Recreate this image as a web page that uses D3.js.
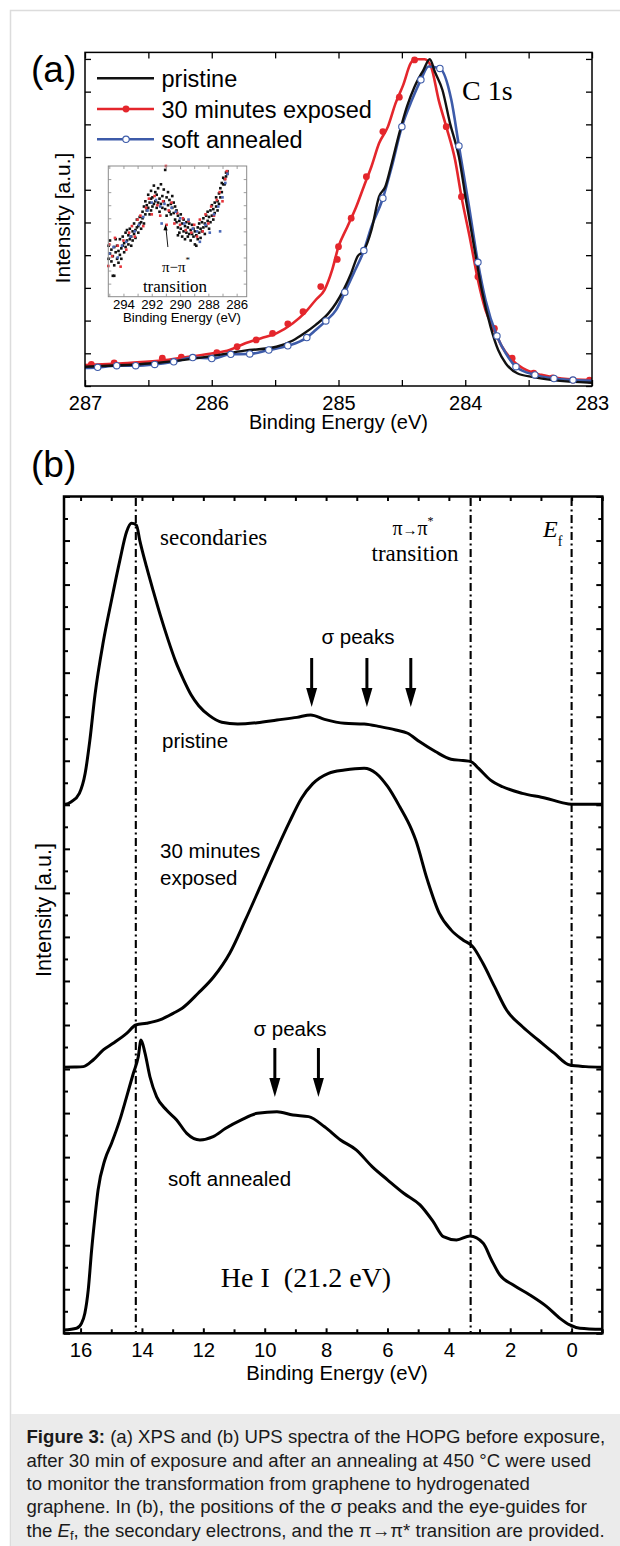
<!DOCTYPE html>
<html><head><meta charset="utf-8">
<script src="https://cdn.jsdelivr.net/npm/d3@7"></script>
<style>
html,body{margin:0;padding:0;background:#fff;}
svg{display:block;}
</style></head>
<body>
<svg id="c" width="620" height="1546"></svg>
<script>
// ---------------- DATA ----------------
// Panel (a): XPS C 1s  [binding energy eV, intensity a.u.]
const xpsPristine = [[287.0,0.59],[286.42,0.71],[285.99,0.92],[285.74,1.08],[285.49,1.20],[285.36,1.39],[285.27,1.61],[285.18,1.87],[285.08,2.22],[285.02,2.53],[284.96,2.94],[284.90,3.45],[284.85,3.96],[284.80,4.14],[284.74,4.77],[284.68,5.79],[284.63,6.10],[284.58,6.81],[284.52,7.73],[284.46,8.54],[284.40,9.15],[284.33,9.66],[284.28,9.99],[284.24,9.61],[284.18,9.05],[284.12,8.03],[284.05,7.01],[283.99,5.59],[283.93,4.26],[283.87,2.94],[283.80,1.81],[283.74,1.10],[283.68,0.69],[283.59,0.39],[283.46,0.27],[283.31,0.18],[283.0,0.10]];
const xpsExposed = [[287.0,0.64],[286.73,0.69],[286.42,0.77],[286.17,0.90],[285.99,1.0],[285.86,1.10],[285.74,1.30],[285.61,1.46],[285.49,1.61],[285.36,1.92],[285.27,2.22],[285.18,2.63],[285.11,2.94],[285.05,3.55],[285.0,4.26],[284.93,4.87],[284.86,5.48],[284.80,6.10],[284.74,6.71],[284.68,7.42],[284.61,7.93],[284.55,8.64],[284.49,9.20],[284.43,9.87],[284.40,9.99],[284.32,9.99],[284.27,9.77],[284.21,8.75],[284.15,7.93],[284.08,6.91],[284.03,5.79],[283.96,4.46],[283.90,3.24],[283.84,2.32],[283.77,1.71],[283.71,1.20],[283.63,0.80],[283.52,0.49],[283.40,0.34],[283.24,0.23],[283.0,0.18]];
const xpsExposedMarks = [[286.95,0.66],[286.77,0.71],[286.39,0.85],[286.24,0.88],[285.96,1.02],[285.80,1.20],[285.65,1.41],[285.52,1.61],[285.40,1.90],[285.28,2.27],[285.14,3.04],[285.01,3.87],[285.0,4.26],[284.90,5.13],[284.78,6.40],[284.65,7.78],[284.52,8.83],[284.40,9.97],[284.15,7.93],[284.03,5.79],[283.90,3.34],[283.77,1.76],[283.63,0.85],[283.46,0.39],[283.31,0.25],[283.15,0.18],[283.02,0.18]];
const xpsAnnealed = [[287.0,0.55],[286.90,0.57],[286.75,0.62],[286.60,0.62],[286.45,0.66],[286.30,0.74],[286.15,0.87],[286.0,0.84],[285.85,0.97],[285.70,0.98],[285.55,1.10],[285.40,1.23],[285.25,1.48],[285.18,1.71],[285.10,1.99],[285.02,2.32],[284.95,2.87],[284.88,3.45],[284.80,4.14],[284.74,4.87],[284.65,5.74],[284.58,6.70],[284.50,7.93],[284.42,8.75],[284.35,9.36],[284.29,9.77],[284.20,9.71],[284.11,8.75],[284.05,7.34],[283.97,5.48],[283.90,3.78],[283.84,2.63],[283.75,1.53],[283.68,1.0],[283.60,0.59],[283.45,0.34],[283.30,0.23],[283.15,0.18],[283.0,0.16]];
const xpsAnnealedMarks = [[286.90,0.57],[286.75,0.62],[286.60,0.62],[286.45,0.66],[286.30,0.74],[286.15,0.87],[286.0,0.84],[285.85,0.97],[285.70,0.98],[285.55,1.10],[285.40,1.23],[285.25,1.48],[285.10,1.99],[284.95,2.87],[284.80,4.14],[284.65,5.74],[284.50,7.93],[284.35,9.36],[284.20,9.71],[284.05,7.34],[283.90,3.78],[283.75,1.53],[283.60,0.59],[283.45,0.34],[283.30,0.23],[283.15,0.18]];

// Inset: pi-pi* region scatter [eV, intensity]
const insetBlack = [[295.05,3.9],[295.05,2.9],[294.95,3.3],[294.95,4.3],[294.85,2.7],[294.85,3.6],[294.75,1.6],[294.75,3.1],[294.65,1.6],[294.65,3.8],[294.65,2.4],[294.55,3.4],[294.55,4.4],[294.45,2.9],[294.45,3.9],[294.35,3.5],[294.35,2.6],[294.25,4.4],[294.25,3.2],[294.15,3.7],[294.15,2.9],[294.05,4.6],[294.05,3.9],[293.95,4.1],[293.95,3.4],[293.85,4.9],[293.85,3.8],[293.75,4.3],[293.75,5.1],[293.65,4.0],[293.65,4.7],[293.55,5.2],[293.55,4.4],[293.45,4.6],[293.45,3.9],[293.35,5.0],[293.35,4.3],[293.25,5.6],[293.25,4.8],[293.15,5.1],[293.15,4.5],[293.05,5.9],[293.05,5.3],[292.95,5.4],[292.95,4.9],[292.85,6.1],[292.85,5.6],[292.75,5.7],[292.75,5.2],[292.65,6.5],[292.65,6.0],[292.55,5.6],[292.55,6.9],[292.45,6.3],[292.45,7.3],[292.35,7.0],[292.35,6.6],[292.25,7.8],[292.25,6.8],[292.15,7.2],[292.15,6.3],[292.05,8.1],[292.05,7.5],[292.05,6.6],[291.95,7.6],[291.95,6.9],[291.85,8.5],[291.85,7.1],[291.75,7.3],[291.75,8.0],[291.65,7.8],[291.65,6.8],[291.55,8.3],[291.55,7.2],[291.45,7.5],[291.45,6.5],[291.35,8.6],[291.35,7.1],[291.25,6.8],[291.25,7.7],[291.15,7.3],[291.15,8.2],[291.05,9.7],[291.05,6.7],[290.95,7.6],[290.95,6.2],[290.85,7.0],[290.85,8.0],[290.75,6.5],[290.75,7.4],[290.65,7.1],[290.65,6.3],[290.55,7.7],[290.55,6.8],[290.45,6.4],[290.45,7.2],[290.35,5.9],[290.35,6.9],[290.25,6.6],[290.25,5.7],[290.15,6.2],[290.15,5.3],[290.15,4.7],[290.05,5.8],[290.05,4.9],[289.95,6.3],[289.95,5.2],[289.85,5.6],[289.85,4.6],[289.75,5.0],[289.75,5.9],[289.65,5.4],[289.65,4.4],[289.55,4.9],[289.55,5.7],[289.45,5.3],[289.45,4.6],[289.35,4.8],[289.35,5.6],[289.25,4.3],[289.25,5.1],[289.15,5.5],[289.15,4.8],[289.05,4.6],[289.05,5.2],[288.95,4.0],[288.95,5.0],[288.85,4.7],[288.85,3.9],[288.75,5.3],[288.75,4.4],[288.65,4.9],[288.65,5.6],[288.55,4.5],[288.55,5.2],[288.45,5.7],[288.45,5.0],[288.35,5.3],[288.35,6.0],[288.25,4.8],[288.25,5.6],[288.15,6.2],[288.15,5.4],[288.05,5.8],[288.05,6.5],[287.95,5.2],[287.95,6.1],[287.85,6.6],[287.85,5.7],[287.75,6.2],[287.75,7.0],[287.65,5.9],[287.65,6.7],[287.55,7.2],[287.55,6.4],[287.45,6.9],[287.45,7.6],[287.35,7.3],[287.35,6.6],[287.25,7.9],[287.25,7.1],[287.15,8.3],[287.15,7.6],[287.05,8.0],[287.05,8.7],[286.95,8.6],[286.95,9.1],[286.85,9.0],[286.85,8.6],[286.75,9.5],[286.75,9.2],[286.65,9.6],[286.65,9.4]];
const insetRed = [[295.07,2.35],[295.0,4.0],[294.8,3.1],[294.6,4.5],[294.4,3.9],[294.2,2.3],[294.0,4.3],[293.8,3.6],[293.6,4.9],[293.4,5.4],[293.2,4.6],[293.0,5.9],[292.8,6.2],[292.6,5.4],[292.4,6.8],[292.2,7.5],[292.0,6.3],[291.8,7.7],[291.6,7.0],[291.4,6.2],[291.2,7.3],[291.0,10.0],[290.95,5.5],[290.8,6.6],[290.6,7.2],[290.4,5.6],[290.2,6.4],[290.0,5.5],[289.8,6.0],[289.6,5.1],[289.4,5.8],[289.2,4.9],[289.0,5.5],[288.8,4.6],[288.6,5.9],[288.4,5.0],[288.2,6.3],[288.0,5.6],[287.8,6.9],[287.6,6.2],[287.4,7.4],[287.2,8.0],[287.0,7.3],[286.8,9.0],[286.7,9.6]];
const insetBlue = [[295.0,3.3],[294.7,3.8],[294.4,3.0],[294.1,3.9],[293.8,4.2],[293.5,4.6],[293.2,5.0],[292.9,5.5],[292.6,6.1],[292.3,6.6],[292.0,7.2],[291.7,7.4],[291.4,6.9],[291.3,5.6],[291.1,7.1],[290.6,6.8],[290.3,6.5],[290.0,6.0],[289.7,5.6],[289.4,5.9],[289.1,5.2],[288.8,5.0],[288.6,4.2],[288.2,5.5],[287.9,4.9],[287.6,6.3],[287.3,6.9],[287.17,5.0],[287.0,7.6],[286.8,8.7],[286.65,9.4]];

// Panel (b): UPS He I  [binding energy eV, intensity a.u.]
const upsPristine = [[16.54,24.02],[16.49,24.02],[16.3,24.14],[16.04,24.52],[15.85,25.43],[15.7,26.9],[15.53,29.0],[15.26,31.4],[14.99,33.3],[14.72,35.1],[14.5,36.4],[14.34,36.78],[14.18,36.7],[14.07,36.0],[13.85,34.8],[13.63,33.7],[13.4,32.6],[13.15,31.5],[12.9,30.5],[12.65,29.7],[12.4,29.0],[12.15,28.5],[11.8,28.05],[11.4,27.75],[10.88,27.67],[10.24,27.73],[9.6,27.85],[8.95,27.97],[8.5,28.08],[8.05,27.88],[7.4,27.7],[6.76,27.67],[6.24,27.55],[5.73,27.4],[5.34,27.25],[4.96,26.87],[4.44,26.42],[3.93,26.07],[3.54,26.01],[3.28,25.96],[3.03,25.65],[2.64,25.12],[2.25,24.82],[1.61,24.52],[0.84,24.3],[0.32,24.1],[0.0,24.02],[-1.0,24.02]];
const upsExposed = [[16.54,12.08],[16.2,12.09],[15.91,12.11],[15.59,12.41],[15.26,12.87],[14.94,13.17],[14.5,13.62],[14.2,14.0],[13.85,14.08],[13.42,14.23],[12.98,14.53],[12.69,14.76],[12.17,15.44],[11.66,16.19],[11.14,17.26],[10.63,18.77],[10.11,20.4],[9.6,22.0],[9.2,23.2],[8.8,24.3],[8.44,24.95],[7.92,25.43],[7.4,25.58],[6.76,25.66],[6.37,25.43],[5.99,24.82],[5.6,23.91],[5.21,22.86],[5.08,22.4],[4.7,20.59],[4.31,19.07],[3.93,18.32],[3.54,17.86],[3.22,17.56],[2.89,16.8],[2.51,15.74],[2.12,14.68],[1.6,13.92],[1.09,13.32],[0.57,12.72],[0.06,12.18],[-0.46,12.11],[-1.0,12.08]];
const upsAnnealed = [[16.54,0.15],[16.13,0.23],[15.97,0.45],[15.86,0.91],[15.75,1.97],[15.64,3.78],[15.53,5.3],[15.43,6.51],[15.21,7.87],[14.99,8.63],[14.72,9.69],[14.5,10.74],[14.28,11.81],[14.12,12.56],[14.03,13.32],[13.9,12.72],[13.74,11.65],[13.52,10.74],[13.2,10.14],[12.87,9.69],[12.54,9.08],[12.11,8.78],[11.68,8.93],[11.27,9.31],[10.76,9.69],[10.24,9.99],[9.6,10.06],[9.08,9.91],[8.57,9.84],[8.05,9.38],[7.53,8.78],[7.02,8.33],[6.5,7.57],[5.99,6.96],[5.47,6.36],[4.94,5.83],[4.51,5.07],[4.18,4.39],[3.75,4.24],[3.31,4.42],[2.88,4.09],[2.61,3.33],[2.34,2.65],[1.9,2.19],[1.36,1.74],[0.81,1.21],[0.38,0.68],[0.06,0.38],[-0.27,0.23],[-1.0,0.18]];
const guideLines = [14.2, 3.29, 0.0];          // secondaries, pi->pi*, Ef
const sigmaPristine = [8.47, 6.67, 5.24];
const sigmaAnnealed = [9.67, 8.25];

// tick values
const aMajorX = [287,286,285,284,283];
const aMinorX = [286.5,285.5,284.5,283.5];
const aTicksY = [0,1,2,3,4,5,6,7,8,9,10];
const insetLabelsX = [294,292,290,288,286];
const insetTicksX = [295,294,293,292,291,290,289,288,287,286];
const insetTicksY = [1,2,3,4,5,6,7,8,9];
const bMajorX = [16,14,12,10,8,6,4,2,0];
const bMinorX = [15,13,11,9,7,5,3,1,-1];
const bMajorY = d3.range(0,39,2);
const bMinorY = d3.range(1,38,2);

const legendItems = ["pristine","30 minutes exposed","soft annealed"];

// ---------------- DRAW ----------------
const SANS = "'Liberation Sans', Arial, Helvetica, sans-serif";
const SERIF = "'Liberation Serif', 'Times New Roman', serif";
const RED = "#e4262c", BLUE = "#3d5ba9", BLK = "#111";
const svg = d3.select("#c");

svg.append("rect").attr("x",0).attr("y",0).attr("width",620).attr("height",1546).attr("fill","#fff");
svg.append("rect").attr("x",10.5).attr("y",10.5).attr("width",620).attr("height",1546).attr("fill","none").attr("stroke","#dcdcdc").attr("stroke-width",1.5);

function axis(g, gen, fontSize){
  g.call(gen);
  g.select(".domain").remove();
  g.selectAll("text").attr("font-family",SANS).attr("font-size",fontSize).attr("fill","#000");
  g.selectAll("line").attr("stroke","#000");
}

// ===== Panel (a) =====
const xa = d3.scaleLinear().domain([287,283]).range([85,592]);
const ya = d3.scaleLinear().domain([0,10.2]).range([386,52.4]);
const A = svg.append("g");

axis(A.append("g").attr("transform","translate(0,386)"),
  d3.axisBottom(xa).tickValues(aMajorX).tickSizeInner(-6).tickSizeOuter(0).tickPadding(9.8).tickFormat(d3.format("d")), 20);
axis(A.append("g").attr("transform","translate(0,386)"),
  d3.axisBottom(xa).tickValues(aMinorX).tickSizeInner(-6).tickSizeOuter(0).tickFormat(""), 20);
axis(A.append("g").attr("transform","translate(0,52.4)"),
  d3.axisTop(xa).tickValues(aMajorX.concat(aMinorX)).tickSizeInner(-6).tickSizeOuter(0).tickFormat(""), 20);
axis(A.append("g").attr("transform","translate(85,0)"),
  d3.axisLeft(ya).tickValues(aTicksY).tickSizeInner(-6).tickSizeOuter(0).tickFormat(""), 20);
axis(A.append("g").attr("transform","translate(592,0)"),
  d3.axisRight(ya).tickValues(aTicksY).tickSizeInner(-6).tickSizeOuter(0).tickFormat(""), 20);
A.selectAll("line").attr("stroke-width",1.3);

const lineA = d3.line().x(d=>xa(d[0])).y(d=>ya(d[1])).curve(d3.curveMonotoneX);
svg.append("clipPath").attr("id","clipA").append("rect").attr("x",85).attr("y",40).attr("width",507).attr("height",346);
const curvesA = A.append("g").attr("clip-path","url(#clipA)");
curvesA.append("path").datum(xpsExposed).attr("d",lineA).attr("fill","none").attr("stroke",RED).attr("stroke-width",2.6);
curvesA.selectAll(".rm").data(xpsExposedMarks).join("circle").attr("cx",d=>xa(d[0])).attr("cy",d=>ya(d[1])).attr("r",3.4).attr("fill",RED);
curvesA.append("path").datum(xpsAnnealed).attr("d",lineA).attr("fill","none").attr("stroke",BLUE).attr("stroke-width",2.6);
curvesA.append("path").datum(xpsPristine).attr("d",lineA).attr("fill","none").attr("stroke",BLK).attr("stroke-width",2.4);
curvesA.selectAll(".bm").data(xpsAnnealedMarks).join("circle").attr("cx",d=>xa(d[0])).attr("cy",d=>ya(d[1])).attr("r",3.2).attr("fill","#fff").attr("stroke",BLUE).attr("stroke-width",1.1);

A.append("rect").attr("x",85).attr("y",52.4).attr("width",507).attr("height",333.6).attr("fill","none").attr("stroke","#000").attr("stroke-width",1.5);

A.append("text").attr("x",xa(285)).attr("y",429).attr("text-anchor","middle").attr("font-family",SANS).attr("font-size",20).text("Binding Energy (eV)");
A.append("text").attr("transform","translate(70,218) rotate(-90)").attr("text-anchor","middle").attr("font-family",SANS).attr("font-size",21).text("Intensity [a.u.]");
A.append("text").attr("x",31).attr("y",82).attr("font-family",SANS).attr("font-size",37).text("(a)");
A.append("text").attr("x",462).attr("y",100).attr("font-family",SERIF).attr("font-size",28).text("C 1s");

// legend
const legColors = [BLK, RED, BLUE];
const legY = [78.3, 109, 139.3];
const legBase = [87, 118, 147.5];
legendItems.forEach((t,i)=>{
  A.append("line").attr("x1",97).attr("x2",154).attr("y1",legY[i]).attr("y2",legY[i]).attr("stroke",legColors[i]).attr("stroke-width",2.6);
  if(i===1) A.append("circle").attr("cx",126).attr("cy",legY[i]).attr("r",3.4).attr("fill",RED);
  if(i===2) A.append("circle").attr("cx",126).attr("cy",legY[i]).attr("r",3.2).attr("fill","#fff").attr("stroke",BLUE).attr("stroke-width",1.1);
  A.append("text").attr("x",161.5).attr("y",legBase[i]).attr("font-family",SANS).attr("font-size",23.5).text(t);
});

// inset
const xi = d3.scaleLinear().domain([295.07,285.29]).range([108.3,246.7]);
const yi = d3.scaleLinear().domain([0,10]).range([296.7,166]);
const I = svg.append("g");
I.append("rect").attr("x",108.3).attr("y",166).attr("width",138.4).attr("height",130.7).attr("fill","#fff");
const dots = I.append("g");
function scat(data,color){
  dots.selectAll(null).data(data).join("rect").attr("x",d=>xi(d[0])-1.3).attr("y",d=>yi(d[1])-1.3).attr("width",2.6).attr("height",2.6).attr("fill",color);
}
scat(insetBlack,"#111");
scat(insetRed,"#e5333a");
scat(insetBlue,"#4a67b5");
axis(I.append("g").attr("transform","translate(0,296.7)"),
  d3.axisBottom(xi).tickValues(insetLabelsX).tickSizeInner(0).tickSizeOuter(0).tickPadding(3).tickFormat(d3.format("d")), 13.2);
I.append("g").attr("transform","translate(0,296.7)").call(d3.axisBottom(xi).tickValues(insetTicksX).tickSizeInner(-3).tickSizeOuter(0).tickFormat("")).call(g=>g.select(".domain").remove());
I.append("g").attr("transform","translate(0,166)").call(d3.axisTop(xi).tickValues(insetTicksX).tickSizeInner(-3).tickSizeOuter(0).tickFormat("")).call(g=>g.select(".domain").remove());
I.append("g").attr("transform","translate(108.3,0)").call(d3.axisLeft(yi).tickValues(insetTicksY).tickSizeInner(-3).tickSizeOuter(0).tickFormat("")).call(g=>g.select(".domain").remove());
I.append("g").attr("transform","translate(246.7,0)").call(d3.axisRight(yi).tickValues(insetTicksY).tickSizeInner(-3).tickSizeOuter(0).tickFormat("")).call(g=>g.select(".domain").remove());
I.selectAll("line").attr("stroke","#888").attr("stroke-width",0.8);
I.append("rect").attr("x",108.3).attr("y",166).attr("width",138.4).attr("height",130.7).attr("fill","none").attr("stroke","#8a8a8a").attr("stroke-width",1);
I.append("text").attr("x",182).attr("y",322).attr("text-anchor","middle").attr("font-family",SANS).attr("font-size",13.2).text("Binding Energy (eV)");
// pi-pi* arrow
I.append("line").attr("x1",xi(290.86)).attr("y1",yi(3.8)).attr("x2",xi(291.0)).attr("y2",yi(5.3)).attr("stroke","#000").attr("stroke-width",0.9);
I.append("path").attr("d",`M${xi(291.02)},${yi(5.55)} l-2.2,6 l4.2,0.3 z`).attr("fill","#000");
const pt = I.append("text").attr("x",176).attr("y",271.5).attr("text-anchor","middle").attr("font-family",SERIF).attr("font-size",15);
pt.append("tspan").text("π−π");
pt.append("tspan").attr("dy",-9).attr("font-size",9).text("*");
I.append("text").attr("x",175).attr("y",291.5).attr("text-anchor","middle").attr("font-family",SERIF).attr("font-size",17).text("transition");

// ===== Panel (b) =====
const xb = d3.scaleLinear().domain([16.54,-1.0]).range([64,602.3]);
const yb = d3.scaleLinear().domain([0,38]).range([1333.3,496.5]);
const B = svg.append("g");

axis(B.append("g").attr("transform","translate(0,1333.3)"),
  d3.axisBottom(xb).tickValues(bMajorX).tickSizeInner(-5).tickSizeOuter(0).tickPadding(9.5).tickFormat(d3.format("d")), 20.3);
axis(B.append("g").attr("transform","translate(0,1333.3)"),
  d3.axisBottom(xb).tickValues(bMinorX).tickSizeInner(-4).tickSizeOuter(0).tickFormat(""), 20);
axis(B.append("g").attr("transform","translate(0,496.5)"),
  d3.axisTop(xb).tickValues(bMajorX.concat(bMinorX)).tickSizeInner(-4.5).tickSizeOuter(0).tickFormat(""), 20);
axis(B.append("g").attr("transform","translate(64,0)"),
  d3.axisLeft(yb).tickValues(bMajorY).tickSizeInner(-6).tickSizeOuter(0).tickFormat(""), 20);
axis(B.append("g").attr("transform","translate(64,0)"),
  d3.axisLeft(yb).tickValues(bMinorY).tickSizeInner(-4).tickSizeOuter(0).tickFormat(""), 20);
axis(B.append("g").attr("transform","translate(602.3,0)"),
  d3.axisRight(yb).tickValues(bMajorY).tickSizeInner(-6).tickSizeOuter(0).tickFormat(""), 20);
axis(B.append("g").attr("transform","translate(602.3,0)"),
  d3.axisRight(yb).tickValues(bMinorY).tickSizeInner(-4).tickSizeOuter(0).tickFormat(""), 20);
B.selectAll("line").attr("stroke-width",2);

// guides
B.selectAll(".guide").data(guideLines).join("line")
  .attr("x1",d=>xb(d)).attr("x2",d=>xb(d)).attr("y1",498).attr("y2",1332)
  .attr("stroke","#000").attr("stroke-width",2.1).attr("stroke-dasharray","8,3.5,2,3.5");

const lineB = d3.line().x(d=>xb(d[0])).y(d=>yb(d[1])).curve(d3.curveMonotoneX);
[upsPristine, upsExposed, upsAnnealed].forEach(s=>{
  B.append("path").datum(s).attr("d",lineB).attr("fill","none").attr("stroke","#000").attr("stroke-width",3).attr("stroke-linejoin","round");
});

B.append("rect").attr("x",64).attr("y",496.5).attr("width",538.3).attr("height",836.8).attr("fill","none").attr("stroke","#000").attr("stroke-width",2.5);

// arrows
function arrows(list, y1, y2){
  list.forEach(e=>{
    const x = xb(e);
    B.append("line").attr("x1",x).attr("x2",x).attr("y1",y1).attr("y2",y2-16).attr("stroke","#000").attr("stroke-width",3);
    B.append("path").attr("d",`M${x-5.5},${y2-19} L${x+5.5},${y2-19} L${x},${y2} Z`).attr("fill","#000");
  });
}
arrows(sigmaPristine, 658, 707);
arrows(sigmaAnnealed, 1048, 1097);

function txt(x,y,t,fam,size,anchor){
  return B.append("text").attr("x",x).attr("y",y).attr("font-family",fam).attr("font-size",size).attr("text-anchor",anchor||"start").text(t);
}
txt(160,544.5,"secondaries",SERIF,23);
const pp = B.append("text").attr("x",413).attr("y",535).attr("text-anchor","middle").attr("font-family",SERIF).attr("font-size",20);
pp.append("tspan").text("π");
pp.append("tspan").attr("font-size",15).text("→");
pp.append("tspan").text("π");
pp.append("tspan").attr("dy",-10).attr("font-size",12).text("*");
txt(415,560.5,"transition",SERIF,23,"middle");
const ef = B.append("text").attr("x",543).attr("y",537).attr("font-family",SERIF).attr("font-size",24);
ef.append("tspan").attr("font-style","italic").text("E");
ef.append("tspan").attr("dy",9).attr("font-size",14).text("f");
txt(358,644,"σ peaks",SANS,20.5,"middle");
txt(162,748,"pristine",SANS,20.5);
txt(160,858,"30 minutes",SANS,20.5);
txt(160,885,"exposed",SANS,20.5);
txt(290,1036,"σ peaks",SANS,20.5,"middle");
txt(168,1186,"soft annealed",SANS,20.5);
txt(306,1287,"He I  (21.2 eV)",SERIF,28,"middle").attr("xml:space","preserve").style("white-space","pre");
txt(337,1380,"Binding Energy (eV)",SANS,20.3,"middle");
B.append("text").attr("transform","translate(51,910) rotate(-90)").attr("text-anchor","middle").attr("font-family",SANS).attr("font-size",21.5).text("Intensity [a.u.]");
svg.append("text").attr("x",31).attr("y",477).attr("font-family",SANS).attr("font-size",37).text("(b)");

// ===== Caption =====
svg.append("rect").attr("x",11).attr("y",1414).attr("width",609).attr("height",132).attr("fill","#ebebeb");
const capLines = [
  [["b","Figure 3:"],["n"," (a) XPS and (b) UPS spectra of the HOPG before exposure,"]],
  [["n","after 30 min of exposure and after an annealing at 450 °C were used"]],
  [["n","to monitor the transformation from graphene to hydrogenated"]],
  [["n","graphene. In (b), the positions of the σ peaks and the eye-guides for"]],
  [["n","the "],["i","E"],["s","f"],["n",", the secondary electrons, and the π→π* transition are provided."]]
];
const capG = svg.append("g").attr("font-family",SANS).attr("fill","#1a1a1a");
let capSize = 17;
const capTexts = capLines.map((parts,i)=>{
  const t = capG.append("text").attr("x",26.5).attr("y",1443.3+i*23.35).attr("font-size",capSize);
  parts.forEach(p=>{
    const ts = t.append("tspan").text(p[1]);
    if(p[0]==="b") ts.attr("font-weight","bold");
    if(p[0]==="i") ts.attr("font-style","italic");
    if(p[0]==="s") ts.attr("font-size",capSize*0.7).attr("dy",3);
    if(p[0]==="n" && parts.some(q=>q[0]==="s") && parts.indexOf(p)>2) ts.attr("dy",-3);
  });
  return t;
});
const w0 = capTexts[0].node().getComputedTextLength();
const k = 579/w0;
capTexts.forEach(t=>{
  t.attr("font-size",capSize*k);
  t.selectAll("tspan").filter(function(){return d3.select(this).attr("font-size");}).attr("font-size",capSize*k*0.7);
});
</script>
</body></html>
